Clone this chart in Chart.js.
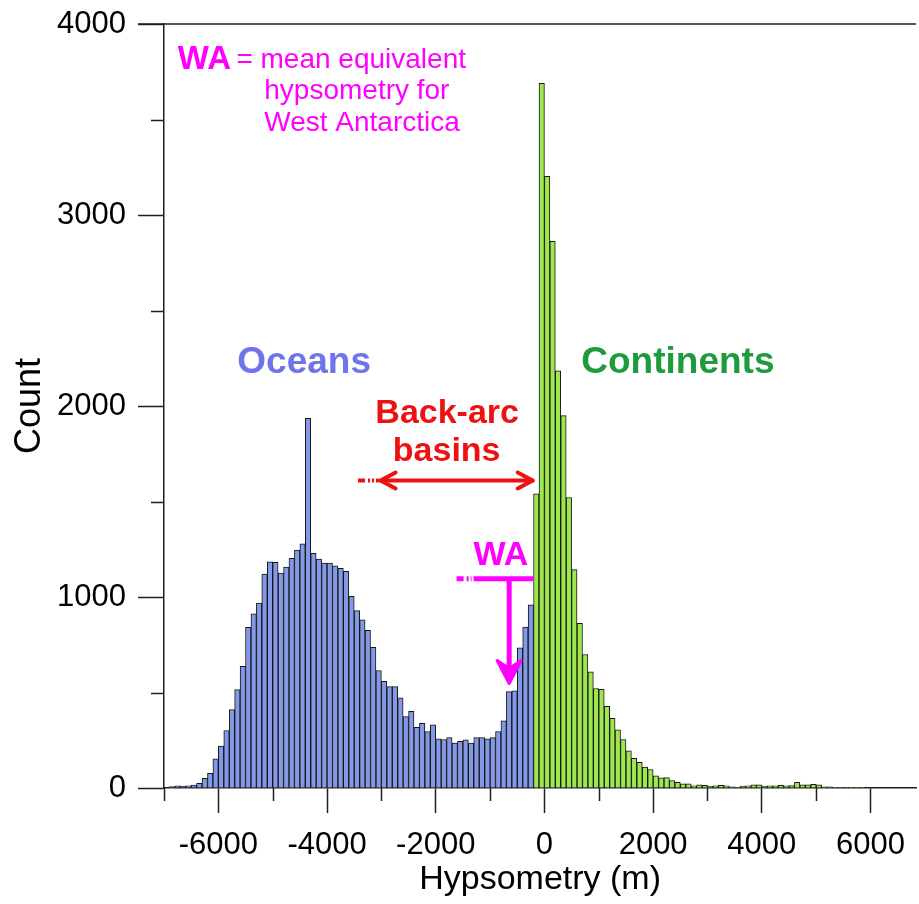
<!DOCTYPE html>
<html>
<head>
<meta charset="utf-8">
<title>Hypsometry histogram</title>
<script src="https://cdn.jsdelivr.net/npm/chart.js@4.4.1/dist/chart.umd.min.js"></script>
<style>
  html, body { margin: 0; padding: 0; background: #fff; }
  #wrap { position: relative; width: 919px; height: 904px; }
</style>
</head>
<body>
<div id="wrap"><canvas id="hypsoChart"></canvas></div>
<script>
// Histograma: caixas de 100 m, contagens
const binWidth = 100;
const oceanFirstBin = -6900;     // borda esquerda da primeira caixa oceânica (m)
const continentFirstBin = -200;  // borda esquerda da primeira caixa continental (m)

const oceanCounts = [
  8, 12, 10, 12, 15, 25, 50, 77, 153, 220,
  301, 411, 515, 637, 841, 912, 968, 1120, 1184, 1182,
  1125, 1156, 1203, 1246, 1278, 1935, 1229, 1198, 1177, 1177,
  1163, 1150, 1135, 1003, 929, 880, 825, 737, 615, 559,
  531, 531, 472, 374, 401, 318, 339, 296, 331, 257,
  254, 264, 235, 245, 252, 235, 264, 264, 257, 264,
  296, 352, 505, 509, 734, 842, 959
];

const continentCounts = [
  1540, 3690, 3203, 2862, 2184, 1950, 1521, 1143, 862, 699,
  608, 521, 516, 427, 365, 304, 254, 195, 155, 135,
  109, 97, 64, 53, 54, 39, 30, 22, 22, 11,
  17, 14, 10, 12, 14, 12, 6, 5, 10, 12,
  16, 16, 10, 12, 12, 14, 12, 13, 30, 17,
  17, 19, 16, 6, 6, 4, 4, 3, 4, 4,
  2
];

const xMajorTicks = [-6000, -4000, -2000, 0, 2000, 4000, 6000];
const xMinorTicks = [-7000, -5000, -3000, -1000, 1000, 3000, 5000];
const yMajorTicks = [0, 1000, 2000, 3000, 4000];
const yMinorTicks = [500, 1500, 2500, 3500];
const xRange = [-7000, 6840];
const yRange = [0, 4000];

const FONT = '"Liberation Sans", Arial, Helvetica, sans-serif';
const AXIS_COLOR = '#1e1e1e';

// pontos centrados em cada caixa
function toBins(counts, firstEdge) {
    return counts.map((c, i) => ({ x: firstEdge + i * binWidth + binWidth / 2, y: c }));
}

// seta aberta (duas hastes) na ponta (x, y), dir = +1 direita / -1 esquerda
function openHead(ctx, x, y, dir, len, half) {
    ctx.beginPath();
    ctx.moveTo(x - dir * len, y - half);
    ctx.lineTo(x, y);
    ctx.lineTo(x - dir * len, y + half);
    ctx.stroke();
}

// plugin para ticks menores, moldura superior e anotações
const decorPlugin = {
    id: 'hypsoDecor',
    afterDraw(chart) {
        const ctx = chart.ctx;
        const xs = chart.scales.x;
        const ys = chart.scales.y;
        const area = chart.chartArea;
        const px = v => xs.getPixelForValue(v);
        const py = v => ys.getPixelForValue(v);

        ctx.save();

        // moldura superior
        ctx.strokeStyle = AXIS_COLOR;
        ctx.lineWidth = 1.5;
        ctx.beginPath();
        ctx.moveTo(area.left - 26, area.top);
        ctx.lineTo(area.right, area.top);
        ctx.stroke();

        // ticks menores
        xMinorTicks.forEach(v => {
            const x = Math.round(px(v)) + 0.5;
            ctx.beginPath();
            ctx.moveTo(x, area.bottom);
            ctx.lineTo(x, area.bottom + 13);
            ctx.stroke();
        });
        yMinorTicks.forEach(v => {
            const y = Math.round(py(v)) + 0.5;
            ctx.beginPath();
            ctx.moveTo(area.left, y);
            ctx.lineTo(area.left - 13, y);
            ctx.stroke();
        });

        // rótulos dos grupos
        ctx.textBaseline = 'middle';
        ctx.textAlign = 'center';
        ctx.font = 'bold 37px ' + FONT;
        ctx.fillStyle = '#6E74EA';
        ctx.fillText('Oceans', px(-4421), py(2228));
        ctx.fillStyle = '#1E9B3C';
        ctx.fillText('Continents', px(2455), py(2228));

        // Back-arc basins
        ctx.font = 'bold 34px ' + FONT;
        ctx.fillStyle = '#EE1111';
        ctx.fillText('Back-arc', px(-1790), py(1959));
        ctx.fillText('basins', px(-1799), py(1760));

        const redY = py(1610);
        ctx.strokeStyle = '#EE1111';
        ctx.lineWidth = 4;
        ctx.lineCap = 'round';
        ctx.beginPath();
        ctx.moveTo(px(-3015), redY);
        ctx.lineTo(px(-216), redY);
        ctx.stroke();
        ctx.lineJoin = 'round';
        openHead(ctx, px(-3015), redY, -1, 15, 8);
        openHead(ctx, px(-216), redY, 1, 15, 8);
        ctx.lineCap = 'butt';
        ctx.setLineDash([7, 3, 2, 2, 2, 2]);
        ctx.beginPath();
        ctx.moveTo(px(-3430), redY);
        ctx.lineTo(px(-3046), redY);
        ctx.stroke();
        ctx.setLineDash([]);

        // WA
        const mag = '#FF00FF';
        ctx.fillStyle = mag;
        ctx.font = 'bold 34px ' + FONT;
        ctx.fillText('WA', px(-800), py(1219));

        const waY = py(1095);
        ctx.strokeStyle = mag;
        ctx.lineWidth = 5;
        ctx.beginPath();
        ctx.moveTo(px(-1304), waY);
        ctx.lineTo(px(-204), waY);
        ctx.stroke();
        ctx.setLineDash([7, 3, 2, 2, 2, 2]);
        ctx.beginPath();
        ctx.moveTo(px(-1616), waY);
        ctx.lineTo(px(-1341), waY);
        ctx.stroke();
        ctx.setLineDash([]);

        const waX = px(-649);
        const tipY = py(547);
        ctx.beginPath();
        ctx.moveTo(waX, waY);
        ctx.lineTo(waX, tipY - 12);
        ctx.stroke();
        ctx.beginPath();
        ctx.moveTo(waX, tipY);
        ctx.lineTo(waX - 12, tipY - 23);
        ctx.lineTo(waX, tipY - 15);
        ctx.lineTo(waX + 12, tipY - 23);
        ctx.closePath();
        ctx.fill();
        ctx.lineWidth = 3;
        ctx.lineJoin = 'round';
        ctx.stroke();

        // legenda no canto superior esquerdo
        ctx.textAlign = 'left';
        ctx.font = 'bold 33px ' + FONT;
        ctx.fillText('WA', px(-6745), py(3810));
        ctx.font = '28px ' + FONT;
        ctx.fillText('= mean equivalent', px(-5668), py(3810));
        ctx.fillText('hypsometry for', px(-5155), py(3646));
        ctx.fillText('West Antarctica', px(-5155), py(3479));

        ctx.restore();
    }
};

const ctx = document.getElementById('hypsoChart');

new Chart(ctx, {
    type: 'bar',
    data: {
        datasets: [
            {
                label: 'Oceans',
                data: toBins(oceanCounts, oceanFirstBin),
                backgroundColor: '#8399E6',
                borderColor: '#151515',
                borderWidth: 1,
                barPercentage: 1,
                categoryPercentage: 1,
                grouped: false
            },
            {
                label: 'Continents',
                data: toBins(continentCounts, continentFirstBin),
                backgroundColor: '#9EE84E',
                borderColor: '#151515',
                borderWidth: 1,
                barPercentage: 1,
                categoryPercentage: 1,
                grouped: false
            }
        ]
    },
    options: {
        responsive: true,
        maintainAspectRatio: false,
        animation: false,
        events: [],
        layout: { padding: { top: 24, right: 0, bottom: 0, left: 0 } },
        plugins: {
            legend: { display: false },
            tooltip: { enabled: false }
        },
        scales: {
            x: {
                type: 'linear',
                min: xRange[0],
                max: xRange[1],
                offset: false,
                afterBuildTicks: axis => { axis.ticks = xMajorTicks.map(v => ({ value: v })); },
                afterFit: axis => { axis.height = 116; },
                border: { display: true, color: AXIS_COLOR, width: 1.5 },
                grid: {
                    offset: false,
                    drawOnChartArea: false,
                    drawTicks: true,
                    tickLength: 25,
                    tickColor: AXIS_COLOR,
                    tickWidth: 1.5
                },
                ticks: {
                    color: '#000',
                    font: { family: FONT, size: 31 },
                    padding: 14,
                    maxRotation: 0,
                    autoSkip: false,
                    callback: v => String(v)
                },
                title: {
                    display: true,
                    text: 'Hypsometry (m)',
                    color: '#000',
                    font: { family: FONT, size: 34 },
                    padding: { top: 0, bottom: 4 }
                }
            },
            y: {
                min: yRange[0],
                max: yRange[1],
                afterBuildTicks: axis => { axis.ticks = yMajorTicks.map(v => ({ value: v })); },
                afterFit: axis => {
                    axis.width = 164;
                    axis.paddingTop = 0;
                    axis.paddingBottom = 0;
                },
                border: { display: true, color: AXIS_COLOR, width: 1.5 },
                grid: {
                    drawOnChartArea: false,
                    drawTicks: true,
                    tickLength: 26,
                    tickColor: AXIS_COLOR,
                    tickWidth: 1.5
                },
                ticks: {
                    color: '#000',
                    font: { family: FONT, size: 31 },
                    padding: 12,
                    callback: v => String(v)
                },
                title: {
                    display: true,
                    text: 'Count',
                    color: '#000',
                    font: { family: FONT, size: 36 },
                    padding: { top: 8, bottom: 0 }
                }
            }
        }
    },
    plugins: [decorPlugin]
});
</script>
</body>
</html>
